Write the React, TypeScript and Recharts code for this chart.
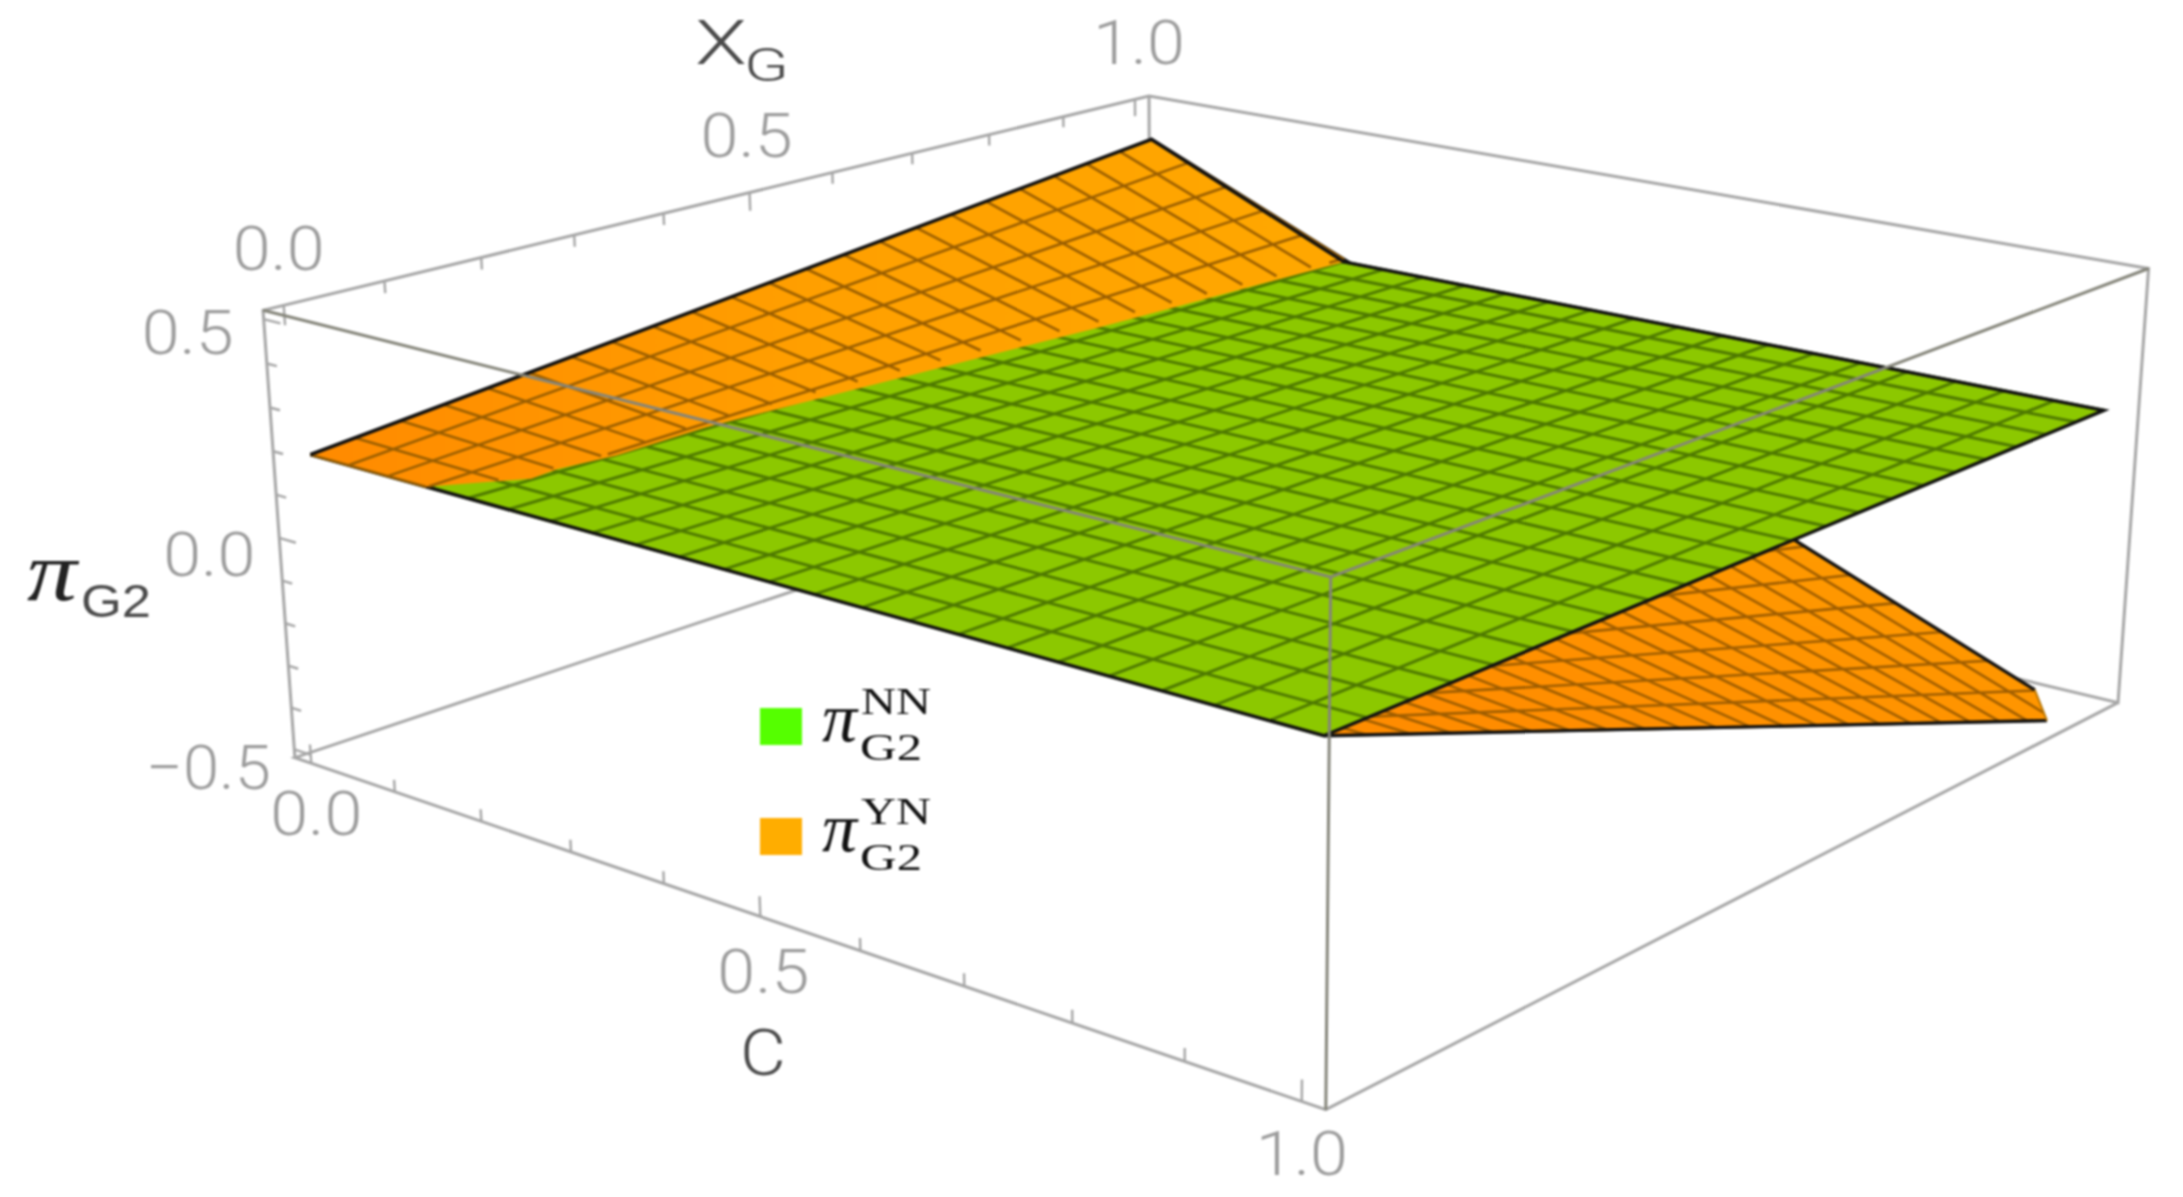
import React from 'react';
import { ComposedChart, Area, Line, XAxis, YAxis, ReferenceDot } from 'recharts';

// grid levels shared by C and X_G
const meshLevels = [0, 0.045, 0.091, 0.136, 0.182, 0.227, 0.273, 0.318, 0.364, 0.409, 0.455, 0.5, 0.545, 0.591, 0.636, 0.682, 0.727, 0.773, 0.818, 0.864, 0.909, 0.955, 1];

// pi NN is a flat sheet, pi YN meets it along X_G = 0
const piNN = 0.19;
const piYNAtC0 = [0.19, 0.2, 0.211, 0.221, 0.232, 0.242, 0.253, 0.263, 0.274, 0.284, 0.295, 0.305, 0.315, 0.326, 0.336, 0.347, 0.357, 0.368, 0.378, 0.389, 0.399, 0.41, 0.42];
const piYNAtC1 = [0.19, 0.156, 0.122, 0.088, 0.054, 0.02, -0.015, -0.049, -0.083, -0.117, -0.151, -0.185, -0.219, -0.253, -0.287, -0.322, -0.355, -0.39, -0.424, -0.458, -0.492, -0.526, -0.56];
const piYNAtX1 = [0.42, 0.376, 0.331, 0.287, 0.242, 0.198, 0.152, 0.108, 0.063, 0.019, -0.026, -0.07, -0.114, -0.159, -0.203, -0.248, -0.292, -0.338, -0.382, -0.427, -0.471, -0.516, -0.56];

// where the two sheets cross
const seamX = [0, 0.03, 0.065, 0.095, 0.15, 0.25, 0.68, 1];
const seamC = [0.135, 0.155, 0.18, 0.176, 0.183, 0.179, 0.212, 0.228];

const floorZ = -0.515;
const boxLo = -0.02;
const boxHi = 1.02;
const zLo = -0.52;
const zHi = 0.52;

const axisMinorTicks = [0.1, 0.2, 0.3, 0.4, 0.6, 0.7, 0.8, 0.9];
const axisMajorTicks = [0, 0.5, 1];
const zMinorTicks = [-0.4, -0.3, -0.2, -0.1, 0.1, 0.2, 0.3, 0.4];
const zMajorTicks = [-0.5, 0, 0.5];

const xgTickLabels = ['0.0', '0.5', '1.0'];
const cTickLabels = ['0.0', '0.5', '1.0'];
const zTickLabels = ['\u22120.5', '0.0', '0.5'];

// camera: box corners and sheet corners against where they land in the picture
const calibration: number[][] = [
  [boxLo, boxLo, zHi, 262, 310],
  [boxLo, boxHi, zHi, 1150, 96],
  [boxHi, boxHi, zHi, 2151, 270],
  [boxHi, boxLo, zHi, 1328, 580],
  [boxLo, boxLo, zLo, 295, 760],
  [boxHi, boxLo, zLo, 1324, 1110],
  [boxHi, boxHi, zLo, 2119, 702],
  [0, 0, 0.19, 312, 452],
  [1, 0, 0.19, 1328, 733],
  [1, 1, 0.19, 2101, 409],
  [0, 1, 0.42, 1150, 140],
];

function solveCamera() {
  const n = 11;
  const A = Array.from({ length: n }, () => new Array(n + 1).fill(0));
  const add = (row: number[], rhs: number) => {
    for (let i = 0; i < n; i++) {
      for (let j = 0; j < n; j++) A[i][j] += row[i] * row[j];
      A[i][n] += row[i] * rhs;
    }
  };
  calibration.forEach(([c, x, z, px, py]) => {
    add([1, c, x, z, 0, 0, 0, 0, -px * c, -px * x, -px * z], px);
    add([0, 0, 0, 0, 1, c, x, z, -py * c, -py * x, -py * z], py);
  });
  for (let i = 0; i < n; i++) {
    let p = i;
    for (let r = i + 1; r < n; r++) if (Math.abs(A[r][i]) > Math.abs(A[p][i])) p = r;
    [A[i], A[p]] = [A[p], A[i]];
    for (let r = 0; r < n; r++) {
      if (r === i) continue;
      const f = A[r][i] / A[i][i];
      for (let k = i; k <= n; k++) A[r][k] -= f * A[i][k];
    }
  }
  return A.map((row, i) => row[n] / row[i]);
}

const cam = solveCamera();

type P3 = [number, number, number];
type Row = { u: number; v: number | null };

const project = ([c, x, z]: P3): { u: number; v: number } => {
  const w = 1 + cam[8] * c + cam[9] * x + cam[10] * z;
  return {
    u: (cam[0] + cam[1] * c + cam[2] * x + cam[3] * z) / w,
    v: (cam[4] + cam[5] * c + cam[6] * x + cam[7] * z) / w,
  };
};

// one series per family of lines, nulls break the path
const segments = (lines: P3[][]): Row[] => {
  const rows: Row[] = [];
  lines.forEach((line) => {
    const pts = line.map(project);
    pts.forEach((p) => rows.push(p));
    rows.push({ u: pts[pts.length - 1].u, v: null });
  });
  return rows;
};

// area series needs a low/high pair per x, polygons here are x-monotone
const toBand = (poly: P3[]) => {
  const pts = poly.map(project);
  const us = Array.from(new Set(pts.map((p) => p.u))).sort((a, b) => a - b);
  return us.map((u) => {
    const hits: number[] = [];
    pts.forEach((a, i) => {
      const b = pts[(i + 1) % pts.length];
      const lo = Math.min(a.u, b.u);
      const hi = Math.max(a.u, b.u);
      if (u < lo || u > hi) return;
      if (hi === lo) hits.push(a.v, b.v);
      else hits.push(a.v + ((u - a.u) / (b.u - a.u)) * (b.v - a.v));
    });
    return { u, band: [Math.min(...hits), Math.max(...hits)] };
  });
};

const clipToFloor = (a: P3, b: P3): P3[] => {
  if (b[2] >= floorZ) return [a, b];
  const t = (a[2] - floorZ) / (a[2] - b[2]);
  return [a, [a[0] + t * (b[0] - a[0]), a[1] + t * (b[1] - a[1]), floorZ]];
};

const seamAt = (x: number) => {
  for (let i = 1; i < seamX.length; i++) {
    if (x <= seamX[i]) {
      const t = (x - seamX[i - 1]) / (seamX[i] - seamX[i - 1]);
      return seamC[i - 1] + t * (seamC[i] - seamC[i - 1]);
    }
  }
  return seamC[seamC.length - 1];
};

const seamStartX = (c: number) => {
  if (c <= seamC[0]) return 0;
  for (let i = 1; i < seamX.length; i++) {
    if (seamC[i] >= c) {
      const t = (c - seamC[i - 1]) / (seamC[i] - seamC[i - 1]);
      return seamX[i - 1] + t * (seamX[i] - seamX[i - 1]);
    }
  }
  return 1;
};

const lastIdx = meshLevels.length - 1;
const peak: P3 = [0, 1, piYNAtX1[0]];
const tip: P3 = [0, 0, piNN];
const nearCorner: P3 = [1, 0, piNN];
const floorOnX1 = clipToFloor(peak, [1, 1, piYNAtX1[lastIdx]])[1];
const floorOnC1 = clipToFloor(nearCorner, [1, 1, piYNAtC1[lastIdx]])[1];

// full YN sheet, painted first and covered by the NN sheet
const orangeBand = toBand([tip, peak, floorOnX1, floorOnC1, nearCorner]);
const orangeMesh = segments([
  ...meshLevels.map((x, i) => clipToFloor([0, x, piYNAtC0[i]], [1, x, piYNAtC1[i]])),
  ...meshLevels.map((c, i) => clipToFloor([c, 0, piNN], [c, 1, piYNAtX1[i]])),
]);
const orangeEdge = segments([[tip, peak, floorOnX1], [floorOnC1, nearCorner]]);
const orangeClipEdge = segments([[floorOnX1, floorOnC1]]);

// NN sheet
const greenCorners: P3[] = [tip, [0, 1, piNN], [1, 1, piNN], nearCorner];
const greenBand = toBand(greenCorners);
const greenMesh = segments([
  ...meshLevels.map((x): P3[] => [[0, x, piNN], [1, x, piNN]]),
  ...meshLevels.map((c): P3[] => [[c, 0, piNN], [c, 1, piNN]]),
]);
const greenEdge = segments([[[0, 1, piNN], [1, 1, piNN], nearCorner, tip]]);

// part of the YN sheet that rises above NN
const seamLine: P3[] = seamX.map((x, i) => [seamC[i], x, piNN]);
const upperBand = toBand([tip, peak, ...seamLine.slice().reverse()]);
const upperMesh = segments([
  ...meshLevels.map((x, i): P3[] => {
    const c = seamAt(x);
    return [[0, x, piYNAtC0[i]], [c, x, piYNAtC0[i] + c * (piYNAtC1[i] - piYNAtC0[i])]];
  }),
  ...meshLevels
    .map((c, i) => ({ c, i }))
    .filter(({ c }) => c < seamC[seamC.length - 1])
    .map(({ c, i }): P3[] => {
      const x0 = seamStartX(c);
      return [[c, x0, piNN + x0 * (piYNAtX1[i] - piNN)], [c, 1, piYNAtX1[i]]];
    }),
]);
const upperEdge = segments([[tip, peak, seamLine[seamLine.length - 1]]]);

// box
const backEdges = segments([
  [[boxLo, boxLo, zLo], [boxLo, boxLo, zHi], [boxLo, boxHi, zHi], [boxHi, boxHi, zHi], [boxHi, boxHi, zLo], [boxLo, boxHi, zLo], [boxLo, boxLo, zLo], [boxHi, boxLo, zLo], [boxHi, boxHi, zLo]],
  [[boxLo, boxHi, zHi], [boxLo, boxHi, zLo]],
]);
const frontEdges = segments([
  [[boxLo, boxLo, zHi], [boxHi, boxLo, zHi], [boxHi, boxHi, zHi]],
  [[boxHi, boxLo, zHi], [boxHi, boxLo, zLo]],
]);
const tickRows = segments([
  ...axisMinorTicks.map((x): P3[] => [[boxLo, x, zHi], [boxLo, x, zHi - 0.028]]),
  ...axisMajorTicks.map((x): P3[] => [[boxLo, x, zHi], [boxLo, x, zHi - 0.045]]),
  ...axisMinorTicks.map((c): P3[] => [[c, boxLo, zLo], [c, boxLo, zLo + 0.028]]),
  ...axisMajorTicks.map((c): P3[] => [[c, boxLo, zLo], [c, boxLo, zLo + 0.045]]),
  ...zMinorTicks.map((z): P3[] => [[boxLo, boxLo, z], [boxLo + 0.012, boxLo, z]]),
  ...zMajorTicks.map((z): P3[] => [[boxLo, boxLo, z], [boxLo + 0.02, boxLo, z]]),
]);

// tick label anchors sit on the axes, nudged off them
const tickLabelSpots = [
  ...xgTickLabels.map((text, i) => ({ text, at: project([boxLo, axisMajorTicks[i], zHi]), dx: [-5, -3, 4][i], dy: -57 })),
  ...cTickLabels.map((text, i) => ({ text, at: project([axisMajorTicks[i], boxLo, zLo]), dx: [5, 3, 0][i], dy: [50, 55, 52][i] })),
  ...zTickLabels.map((text, i) => ({ text, at: project([boxLo, boxLo, zMajorTicks[i]]), dx: [-86, -70, -76][i], dy: [18, 17, 13][i] })),
];

const sans = '"Liberation Sans", Arial, sans-serif';
const light = 'Roboto, "Liberation Sans", sans-serif';
const serif = '"Liberation Serif", "Times New Roman", serif';
const tickColor = '#9c9c9c';
const boxColor = '#a6a6a6';
const titleColor = '#4a4a4a';

const legendEntries = [
  { sup: 'NN', color: '#55FF00', y: 708 },
  { sup: 'YN', color: '#FFAD00', y: 818 },
];

// every series gets its own zIndex so the sheets hide what lies behind them
let nextLayer = 100;

const line = (key: string, data: Row[], stroke: string, strokeWidth: number) => (
  <Line
    key={key}
    data={data}
    dataKey="v"
    stroke={stroke}
    strokeWidth={strokeWidth}
    dot={false}
    activeDot={false}
    legendType="none"
    isAnimationActive={false}
    {...({ zIndex: (nextLayer += 10) } as any)}
  />
);

const sheet = (key: string, data: any[], fill: string) => (
  <Area
    key={key}
    data={data}
    dataKey="band"
    type="linear"
    fill={fill}
    fillOpacity={1}
    stroke="none"
    dot={false}
    activeDot={false}
    legendType="none"
    isAnimationActive={false}
    {...({ zIndex: (nextLayer += 10) } as any)}
  />
);

const App: React.FC = () => {
  nextLayer = 100;
  return (
    <div style={{ position: 'absolute', left: 0, top: 0, width: 2183, height: 1197, background: '#fff', filter: 'blur(1.1px)' }}>
      <ComposedChart width={2183} height={1197} margin={{ top: 0, right: 0, bottom: 0, left: 0 }}>
        <defs>
          <linearGradient id="orangeLow" x1="0" y1="1" x2="1" y2="0">
            <stop offset="0.35" stopColor="#FF8C00" />
            <stop offset="0.8" stopColor="#FFA500" />
          </linearGradient>
          <linearGradient id="orangeTop" x1="0" y1="0" x2="1" y2="0">
            <stop offset="0" stopColor="#FF8A00" />
            <stop offset="0.5" stopColor="#FFA000" />
            <stop offset="1" stopColor="#FFA800" />
          </linearGradient>
        </defs>
        <XAxis type="number" dataKey="u" domain={[0, 2183]} allowDataOverflow hide />
        <YAxis type="number" domain={[0, 1197]} reversed allowDataOverflow hide />

        {line('back', backEdges, boxColor, 3)}
        {line('ticks', tickRows, boxColor, 2.4)}

        {sheet('orange', orangeBand, 'url(#orangeLow)')}
        {line('orangeMesh', orangeMesh, '#A05E00', 2.6)}
        {line('orangeEdge', orangeEdge, '#111', 3.4)}
        {line('orangeClip', orangeClipEdge, '#B87500', 2)}

        {sheet('green', greenBand, '#8CC800')}
        {line('greenMesh', greenMesh, '#4F7A00', 3)}
        {line('greenEdge', greenEdge, '#111', 3.4)}

        {sheet('upper', upperBand, 'url(#orangeTop)')}
        {line('upperMesh', upperMesh, '#9A5E00', 2.6)}
        {line('upperEdge', upperEdge, '#111', 3.4)}

        {line('front', frontEdges, '#85857a', 3)}

        {tickLabelSpots.map((s, i) => (
          <ReferenceDot
            key={i}
            x={s.at.u}
            y={s.at.v}
            r={0}
            ifOverflow="visible"
            shape={(p: any) => (
              <text
                x={p.cx + s.dx}
                y={p.cy + s.dy}
                textAnchor="middle"
                dominantBaseline="central"
                fontFamily={light}
                fontWeight={300}
                fontSize={62}
                fill={tickColor}
                textLength={s.text.length > 3 ? 125 : 92}
                lengthAdjust="spacingAndGlyphs"
              >
                {s.text}
              </text>
            )}
          />
        ))}

        <ReferenceDot
          x={695}
          y={64}
          r={0}
          ifOverflow="visible"
          shape={(p: any) => (
            <g fontFamily={light} fontWeight={300} fill={titleColor}>
              <text x={p.cx} y={p.cy} fontSize={62} textLength={52} lengthAdjust="spacingAndGlyphs">X</text>
              <text x={p.cx + 49} y={p.cy + 17} fontSize={46} textLength={45} lengthAdjust="spacingAndGlyphs">G</text>
            </g>
          )}
        />
        <ReferenceDot
          x={763}
          y={1053}
          r={0}
          ifOverflow="visible"
          shape={(p: any) => (
            <text x={p.cx} y={p.cy} textAnchor="middle" dominantBaseline="central" fontFamily={light} fontWeight={300} fontSize={64} fill={titleColor} textLength={46} lengthAdjust="spacingAndGlyphs">
              C
            </text>
          )}
        />
        <ReferenceDot
          x={27}
          y={600}
          r={0}
          ifOverflow="visible"
          shape={(p: any) => (
            <g>
              <text x={p.cx} y={p.cy} fontFamily={serif} fontStyle="italic" fontSize={84} fill="#222" textLength={50} lengthAdjust="spacingAndGlyphs">{'\u03C0'}</text>
              <text x={p.cx + 54} y={p.cy + 17} fontFamily={sans} fontSize={46} fill={titleColor} textLength={70} lengthAdjust="spacingAndGlyphs">G2</text>
            </g>
          )}
        />

        {legendEntries.map((e) => (
          <ReferenceDot
            key={e.sup}
            x={760}
            y={e.y}
            r={0}
            ifOverflow="visible"
            shape={(p: any) => (
              <g>
                <rect x={p.cx} y={p.cy} width={42} height={37} fill={e.color} />
                <text x={p.cx + 62} y={p.cy + 33} fontFamily={serif} fontStyle="italic" fontSize={70} fill="#111">{'\u03C0'}</text>
                <text x={p.cx + 101} y={p.cy + 6} fontFamily={serif} fontSize={38} fill="#111" textLength={70} lengthAdjust="spacingAndGlyphs">{e.sup}</text>
                <text x={p.cx + 100} y={p.cy + 52} fontFamily={serif} fontSize={38} fill="#111" textLength={62} lengthAdjust="spacingAndGlyphs">G2</text>
              </g>
            )}
          />
        ))}
      </ComposedChart>
    </div>
  );
};

export default App;
